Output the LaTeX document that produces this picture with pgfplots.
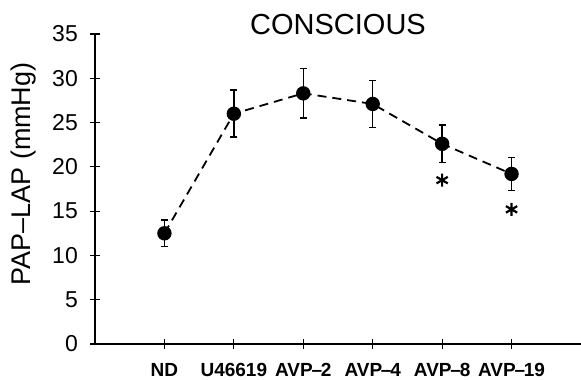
\documentclass[border=0pt]{standalone}
\usepackage{pgfplots}
\pgfplotsset{compat=1.18}
\usepackage{fontspec}
\setmainfont{Liberation Sans}
\newcommand{\dsh}{\kern-1.2pt\textendash\kern-1.2pt}
\begin{document}
\begin{tikzpicture}
\begin{axis}[
  scale only axis, width=486pt, height=310pt,
  at={(0pt,0pt)}, anchor=south west,
  xmin=0, xmax=7, ymin=0, ymax=35,
  axis lines*=left,
  axis line style={line width=1.4pt, black},
  xtick={1,...,6},
  xticklabels={ND,U46619,AVP\dsh2,AVP\dsh4,AVP\dsh8,AVP\dsh19},
  ytick={0,5,...,35},
  tick align=center, major tick length=10pt,
  tick style={line width=1.2pt, black},
  /pgf/number format/assume math mode=true,
  yticklabel style={font=\fontsize{23}{23}\selectfont, anchor=east, inner sep=0pt, xshift=-12pt},
  xticklabel style={font=\bfseries\fontsize{19}{19}\selectfont, anchor=base, inner sep=0pt, yshift=-27.5pt},
  clip=false,
]
\addplot[black, line width=1.8pt, dash pattern=on 9pt off 6pt,
  mark=*, mark size=6.3pt, mark options={solid},
  error bars/.cd, y dir=both, y explicit,
  error bar style={line width=1.5pt, solid},
  error mark options={rotate=90, line width=1.5pt, mark size=3.5pt, solid}]
coordinates {
  (1,12.5) +- (0,1.5)
  (2,26.0) +- (0,2.65)
  (3,28.3) +- (0,2.8)
  (4,27.1) +- (0,2.65)
  (5,22.6) +- (0,2.1)
  (6,19.2) +- (0,1.85)
};
\addplot[only marks, black, mark=asterisk, mark size=6.5pt, line width=2.2pt]
coordinates {(5,18.5) (6,15.2)};
\end{axis}
\node[font=\fontsize{29}{29}\selectfont, anchor=base] at (243pt,309pt) {CONSCIOUS};
\node[rotate=90, font=\fontsize{27}{27}\selectfont] at (-71pt,170pt) {PAP--LAP (mmHg)};
\pgfresetboundingbox
\path[use as bounding box] (-95pt,-36pt) rectangle (486pt,344pt);
\end{tikzpicture}
\end{document}
